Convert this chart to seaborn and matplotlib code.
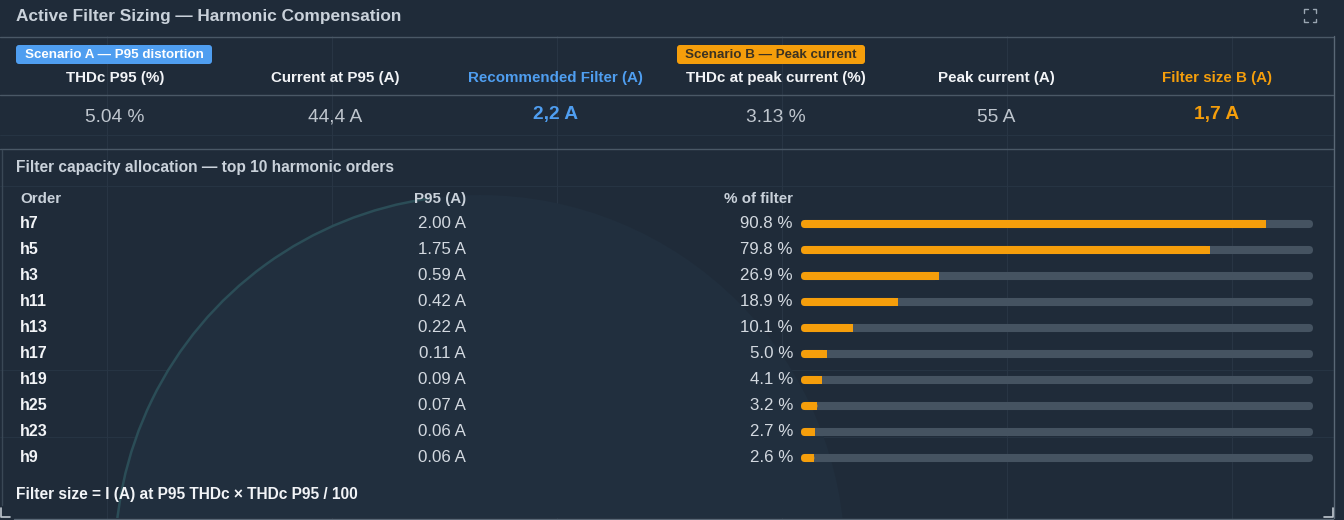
import matplotlib
matplotlib.use("Agg")
import matplotlib.pyplot as plt
import seaborn as sns
import pandas as pd
from matplotlib.patches import FancyBboxPatch, Rectangle, Circle, Arc

# ---------------- data ----------------
orders = ["h7", "h5", "h3", "h11", "h13", "h17", "h19", "h25", "h23", "h9"]
p95_amps = [2.00, 1.75, 0.59, 0.42, 0.22, 0.11, 0.09, 0.07, 0.06, 0.06]
pct_filter = [90.8, 79.8, 26.9, 18.9, 10.1, 5.0, 4.1, 3.2, 2.7, 2.6]

kpi_labels = ["THDc P95 (%)", "Current at P95 (A)", "Recommended Filter (A)",
              "THDc at peak current (%)", "Peak current (A)", "Filter size B (A)"]
kpi_values = ["5.04 %", "44,4 A", "2,2 A", "3.13 %", "55 A", "1,7 A"]

title = "Active Filter Sizing — Harmonic Compensation"
badge_a = "Scenario A — P95 distortion"
badge_b = "Scenario B — Peak current"
subtitle = "Filter capacity allocation — top 10 harmonic orders"
col_headers = ["Order", "P95 (A)", "% of filter"]
footnote = "Filter size = I (A) at P95 THDc × THDc P95 / 100"

# ---------------- style ----------------
BG = "#1f2b39"
TXT = "#d3d9e0"
WHITE = "#f2f4f7"
BLUE = "#4f9ef0"
ORANGE = "#f59e0b"
TRACK = "#455361"
LINE = "#4a5866"
SANS = ["Liberation Sans", "DejaVu Sans"]

sns.set_theme(style="white")
plt.rcParams["font.family"] = SANS

W, H = 1344, 520
fig = plt.figure(figsize=(W / 100, H / 100), dpi=100, facecolor=BG)

ov = fig.add_axes([0, 0, 1, 1])
ov.set_xlim(0, W)
ov.set_ylim(H, 0)
ov.axis("off")

# faint background decoration (grid + globe outline)
for gx in range(107, W, 225):
    ov.plot([gx, gx], [36, 518], color="#2a3847", lw=0.6, zorder=0)
for gy in [135, 186, 370, 437]:
    ov.plot([0, 1333], [gy, gy], color="#283645", lw=0.6, zorder=0)
clip = Rectangle((2, 149), 1331, 369, transform=ov.transData)
globe = Circle((480, 560), 365, fc="#212f3e", ec="none", zorder=0)
ov.add_patch(globe)
globe.set_clip_path(clip)
rim = Arc((480, 560), 730, 730, theta1=150, theta2=262, color="#2b4d57", lw=1.8, zorder=0)
ov.add_patch(rim)
rim.set_clip_path(clip)

ov.plot([0, 1333], [36.5, 36.5], color=LINE, lw=1)
ov.plot([0, 1333], [94.5, 94.5], color=LINE, lw=1)
ov.plot([0, 1333], [148.5, 148.5], color=LINE, lw=1)
ov.plot([1333.5, 1333.5], [36, 518], color="#5a6876", lw=1)
ov.plot([14, 1333], [518.5, 518.5], color="#5a6876", lw=1)
ov.plot([1.5, 1.5], [150, 505], color="#3a4856", lw=1)
ov.plot([1, 1, 10], [508, 517, 517], color="#c0c8d0", lw=1.2)
ov.plot([1324, 1333, 1333], [517, 517, 508], color="#c0c8d0", lw=1.2)
ic = "#9aa6b2"
x0, y0, x1, y1, s = 1304, 9, 1316, 22, 3.5
for (ax_, ay_, bx_, by_, cx_, cy_) in [
    (x0, y0 + s, x0, y0, x0 + s, y0), (x1 - s, y0, x1, y0, x1, y0 + s),
    (x0, y1 - s, x0, y1, x0 + s, y1), (x1 - s, y1, x1, y1, x1, y1 - s)]:
    ov.plot([ax_, bx_, cx_], [ay_, by_, cy_], color=ic, lw=1)

ov.text(16, 21, title, color="#c9d1da", fontsize=12.4, fontweight="bold",
        va="baseline", ha="left")

def badge(x, w, text, fc, tc):
    ov.add_patch(FancyBboxPatch((x, 45), w, 19, boxstyle="round,pad=0,rounding_size=3",
                                fc=fc, ec="none"))
    ov.text(x + w / 2, 58.5, text, color=tc, fontsize=9.6, fontweight="bold",
            ha="center", va="baseline")

badge(16, 196, badge_a, BLUE, "#ffffff")
badge(677, 188, badge_b, ORANGE, "#3b3222")

for i, (lab, val) in enumerate(zip(kpi_labels, kpi_values)):
    cx = 115 + 220.4 * i
    if i == 2:
        lc, vc, vw, vy = BLUE, BLUE, "bold", 119
    elif i == 5:
        lc, vc, vw, vy = ORANGE, ORANGE, "bold", 119
    else:
        lc, vc, vw, vy = WHITE, "#bfc6ce", "normal", 122
    ov.text(cx, 82, lab, color=lc, fontsize=10.9, fontweight="bold",
            ha="center", va="baseline")
    ov.text(cx, vy, val, color=vc, fontsize=13.8, fontweight=vw,
            ha="center", va="baseline")

ov.text(16, 172, subtitle, color="#c9d1da", fontsize=11.2, fontweight="bold",
        ha="left", va="baseline")

hy = 203
ov.text(20, hy, col_headers[0], color="#c9d1da", fontsize=10.9, fontweight="bold",
        va="baseline")
ov.text(466, hy, col_headers[1], color="#c9d1da", fontsize=10.9, fontweight="bold",
        va="baseline", ha="right")
ov.text(793, hy, col_headers[2], color="#c9d1da", fontsize=10.9, fontweight="bold",
        va="baseline", ha="right")

for i, (o, a, p) in enumerate(zip(orders, p95_amps, pct_filter)):
    yy = 228.3 + 26 * i
    ov.text(20, yy, o, color=WHITE, fontsize=11.5, fontweight="bold",
            va="baseline", ha="left")
    ov.text(466, yy, f"{a:.2f} A", color=TXT, fontsize=12.2, va="baseline", ha="right")
    ov.text(793, yy, f"{p:.1f} %", color=TXT, fontsize=12.2, va="baseline", ha="right")

ov.text(16, 499, footnote, color=WHITE, fontsize=11.2, fontweight="bold",
        va="baseline", ha="left")

# ---------------- bars (seaborn) ----------------
top_px, bot_px = 211, 471
x_left, x_right = 801, 1313
bx = fig.add_axes([x_left / W, (H - bot_px) / H, (x_right - x_left) / W, (bot_px - top_px) / H])
bx.patch.set_alpha(0)
df = pd.DataFrame({"order": orders, "pct": pct_filter, "track": [100.0] * len(orders)})
sns.barplot(data=df, x="track", y="order", order=orders, color=TRACK, width=0.31,
            ax=bx, saturation=1)
n_track = len(bx.patches)
sns.barplot(data=df, x="pct", y="order", order=orders, color=ORANGE, width=0.31,
            ax=bx, saturation=1)
bx.set_xlim(0, 100)
bx.set_ylim(9.5, -0.5)
bx.axis("off")

xu = 100 / (x_right - x_left)
yu = 10 / (bot_px - top_px)
aspect = yu / xu
for k, r in enumerate(list(bx.patches)):
    x, y, w, h = r.get_x(), r.get_y(), r.get_width(), r.get_height()
    fc = r.get_facecolor()
    r.set_visible(False)
    rad = min(4.0 * xu, w / 2)
    bx.add_patch(FancyBboxPatch((x, y), w, h,
                                boxstyle=f"round,pad=0,rounding_size={rad}",
                                mutation_aspect=aspect, fc=fc, ec="none",
                                zorder=2 if k < n_track else 3))
    if k >= n_track and w > 2 * rad:
        bx.add_patch(Rectangle((x + w / 2, y), w / 2, h, fc=fc, ec="none", zorder=3))

fig.savefig("out.png", dpi=100, facecolor=BG)
